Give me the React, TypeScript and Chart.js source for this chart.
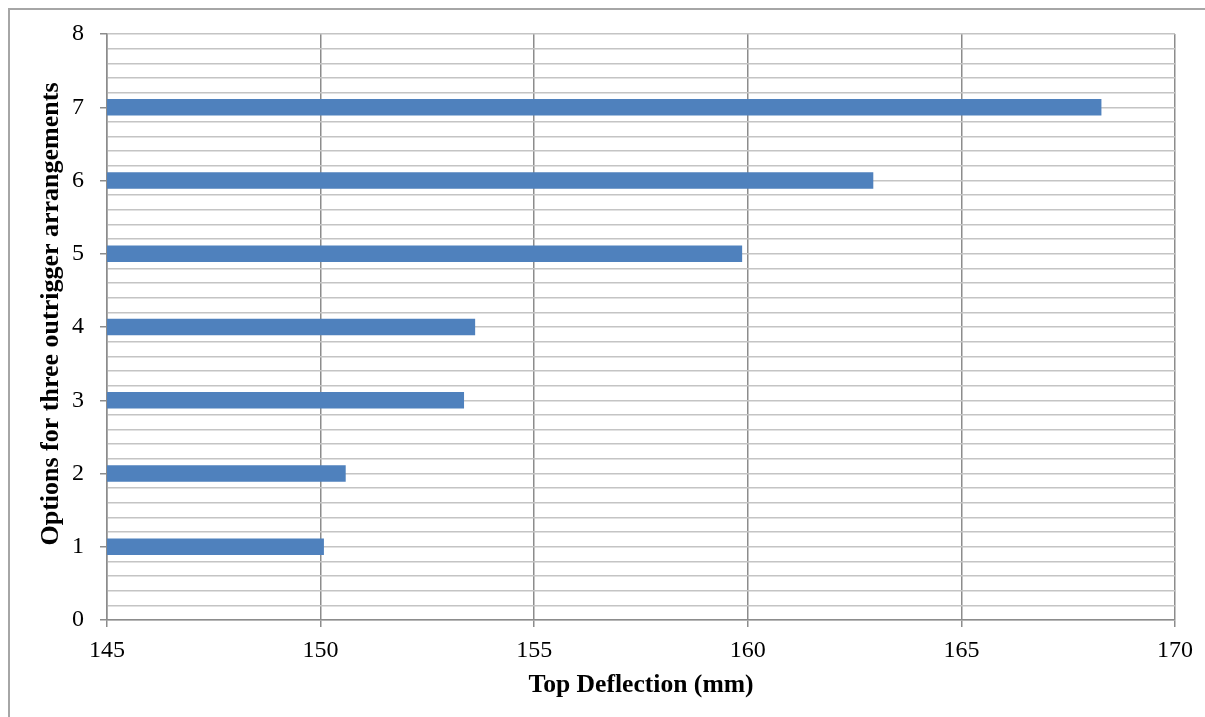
import React, { useEffect, useRef } from "react";
import { Chart, registerables } from "chart.js";

Chart.register(...registerables);

const options = [1, 2, 3, 4, 5, 6, 7];
const topDeflection = [150.07, 150.58, 153.35, 153.61, 159.86, 162.93, 168.27];
const xTicks = [145, 150, 155, 160, 165, 170];
const yTicks = [0, 1, 2, 3, 4, 5, 6, 7, 8];
const xTitle = "Top Deflection (mm)";
const yTitle = "Options for three outrigger arrangements";

const FONT = "'Liberation Serif', 'Times New Roman', serif";

const isInt = (v: number) => Math.abs(v - Math.round(v)) < 1e-6;

const yTitlePlugin = {
  id: "yTitlePlugin",
  afterDraw(chart: any) {
    const ctx = chart.ctx;
    ctx.save();
    ctx.translate(41.5, 304);
    ctx.rotate(-Math.PI / 2);
    ctx.font = `bold 26px ${FONT}`;
    ctx.fillStyle = "#000";
    ctx.textAlign = "center";
    ctx.textBaseline = "middle";
    ctx.fillText(yTitle, 0, 0);
    ctx.restore();
  },
};

export default function App() {
  const ref = useRef<HTMLCanvasElement | null>(null);

  useEffect(() => {
    if (!ref.current) return;
    const chart = new Chart(ref.current, {
      type: "bar",
      data: {
        datasets: [
          {
            data: options.map((o, i) => ({ x: topDeflection[i], y: o })),
            backgroundColor: "#4f81bd",
            borderWidth: 0,
            barThickness: 16,
          } as any,
        ],
      },
      plugins: [yTitlePlugin],
      options: {
        indexAxis: "y",
        animation: false,
        responsive: false,
        maintainAspectRatio: false,
        layout: { padding: { left: 0, top: 24, right: 30, bottom: 0 } },
        plugins: { legend: { display: false }, tooltip: { enabled: false } },
        scales: {
          x: {
            type: "linear",
            position: "bottom",
            min: xTicks[0],
            max: xTicks[xTicks.length - 1],
            afterFit: (s: any) => {
              s.height = 97;
            },
            afterBuildTicks: (s: any) => {
              s.ticks = xTicks.map((v) => ({ value: v }));
            },
            ticks: {
              font: { family: FONT, size: 24 },
              color: "#000",
              padding: 9,
              maxRotation: 0,
              callback: (v: any) => String(v),
            },
            grid: {
              color: "#8c8c8c",
              lineWidth: 1.5,
              tickLength: 7,
              tickColor: "#8c8c8c",
            },
            border: { color: "#8c8c8c", width: 1.5 },
            title: {
              display: true,
              text: xTitle,
              font: { family: FONT, size: 25.6, weight: "bold" },
              color: "#000",
              padding: { top: 0, bottom: 16 },
            },
          },
          y: {
            type: "linear",
            offset: false,
            min: yTicks[0],
            max: yTicks[yTicks.length - 1],
            afterFit: (s: any) => {
              s.width = 97;
              s.paddingTop = 0;
              s.paddingBottom = 0;
            },
            afterBuildTicks: (s: any) => {
              const t: { value: number }[] = [];
              for (let i = 0; i < yTicks.length - 1; i++) {
                for (let k = 0; k < 5; k++) t.push({ value: yTicks[i] + (k * (yTicks[i + 1] - yTicks[i])) / 5 });
              }
              t.push({ value: yTicks[yTicks.length - 1] });
              s.ticks = t;
            },
            ticks: {
              autoSkip: false,
              font: { family: FONT, size: 24 },
              color: "#000",
              padding: 16,
              callback: (v: any) => (isInt(Number(v)) ? String(Math.round(Number(v))) : ""),
            },
            grid: {
              offset: false,
              color: "#c4c4c4",
              lineWidth: 1.5,
              tickLength: 7,
              tickColor: (ctx: any) =>
                ctx.tick && isInt(ctx.tick.value) ? "#8c8c8c" : "rgba(0,0,0,0)",
            },
            border: { color: "#8c8c8c", width: 1.5 },
            title: { display: false },
          },
        },
      },
    });
    return () => chart.destroy();
  }, []);

  return (
    <div
      style={{
        position: "fixed",
        left: 8,
        top: 8,
        width: 1197,
        height: 709,
        boxSizing: "border-box",
        borderLeft: "2px solid #a6a6a6",
        borderTop: "2px solid #a6a6a6",
        background: "#fff",
      }}
    >
      <canvas ref={ref} width={1195} height={707} style={{ display: "block" }} />
    </div>
  );
}
